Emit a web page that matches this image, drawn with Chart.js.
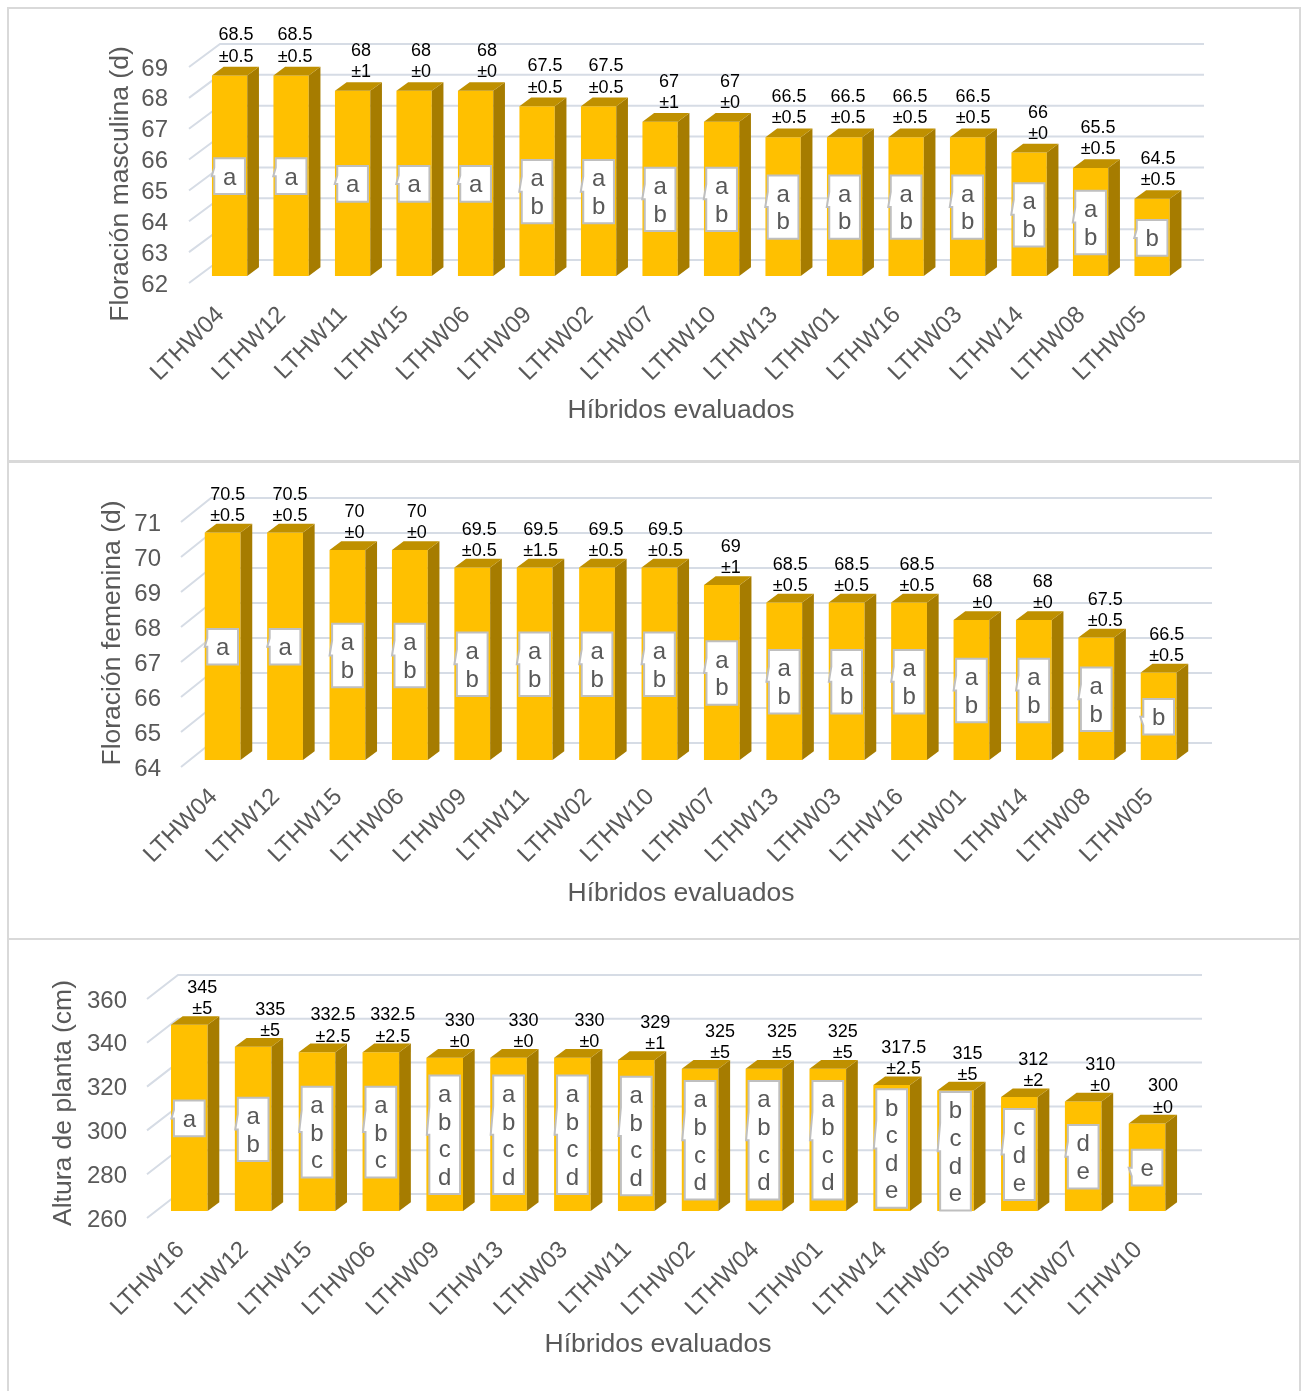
<!DOCTYPE html>
<html lang="es">
<head>
<meta charset="utf-8">
<title>Híbridos evaluados</title>
<script src="https://cdn.jsdelivr.net/npm/chart.js@4/dist/chart.umd.min.js"></script>
<style>
    html, body { margin: 0; padding: 0; background: #fff; }
    body { position: relative; width: 1301px; height: 1391px; overflow: hidden; }
    .panel { position: absolute; left: 7px; width: 1290px; border: 2px solid #D9D9D9; box-sizing: content-box; }
    canvas { position: absolute; left: 0; display: block; }
</style>
</head>
<body>
<div class="panel" style="top:7px;height:452px"></div>
<div class="panel" style="top:460px;height:476px"></div>
<div class="panel" style="top:938px;height:460px"></div>
<canvas id="masculina" width="1301" height="461" style="top:0"></canvas>
<canvas id="femenina" width="1301" height="478" style="top:461px"></canvas>
<canvas id="altura" width="1301" height="452" style="top:939px"></canvas>
<script>
// Floración masculina
const hibridosMasc = ['LTHW04', 'LTHW12', 'LTHW11', 'LTHW15', 'LTHW06', 'LTHW09', 'LTHW02', 'LTHW07', 'LTHW10', 'LTHW13', 'LTHW01', 'LTHW16', 'LTHW03', 'LTHW14', 'LTHW08', 'LTHW05'];
const mediasMasc = [68.5, 68.5, 68, 68, 68, 67.5, 67.5, 67, 67, 66.5, 66.5, 66.5, 66.5, 66, 65.5, 64.5];
const erroresMasc = [0.5, 0.5, 1, 0, 0, 0.5, 0.5, 1, 0, 0.5, 0.5, 0.5, 0.5, 0, 0.5, 0.5];
const letrasMasc = ['a', 'a', 'a', 'a', 'a', 'ab', 'ab', 'ab', 'ab', 'ab', 'ab', 'ab', 'ab', 'ab', 'ab', 'b'];

// Floración femenina
const hibridosFem = ['LTHW04', 'LTHW12', 'LTHW15', 'LTHW06', 'LTHW09', 'LTHW11', 'LTHW02', 'LTHW10', 'LTHW07', 'LTHW13', 'LTHW03', 'LTHW16', 'LTHW01', 'LTHW14', 'LTHW08', 'LTHW05'];
const mediasFem = [70.5, 70.5, 70, 70, 69.5, 69.5, 69.5, 69.5, 69, 68.5, 68.5, 68.5, 68, 68, 67.5, 66.5];
const erroresFem = [0.5, 0.5, 0, 0, 0.5, 1.5, 0.5, 0.5, 1, 0.5, 0.5, 0.5, 0, 0, 0.5, 0.5];
const letrasFem = ['a', 'a', 'ab', 'ab', 'ab', 'ab', 'ab', 'ab', 'ab', 'ab', 'ab', 'ab', 'ab', 'ab', 'ab', 'b'];

// Altura de planta
const hibridosAlt = ['LTHW16', 'LTHW12', 'LTHW15', 'LTHW06', 'LTHW09', 'LTHW13', 'LTHW03', 'LTHW11', 'LTHW02', 'LTHW04', 'LTHW01', 'LTHW14', 'LTHW05', 'LTHW08', 'LTHW07', 'LTHW10'];
const mediasAlt = [345, 335, 332.5, 332.5, 330, 330, 330, 329, 325, 325, 325, 317.5, 315, 312, 310, 300];
const erroresAlt = [5, 5, 2.5, 2.5, 0, 0, 0, 1, 5, 5, 5, 2.5, 5, 2, 0, 0];
const letrasAlt = ['a', 'ab', 'abc', 'abc', 'abcd', 'abcd', 'abcd', 'abcd', 'abcd', 'abcd', 'abcd', 'bcde', 'bcde', 'cde', 'de', 'e'];

const FONT = '"Liberation Sans", Arial, sans-serif';
const GRIS_TEXTO = '#595959';
const GRIS_REJILLA = '#D6DCE5';
const GRIS_CAJA = '#BFBFBF';

// Caras del prisma: el frente lo dibuja Chart.js, el resto el plugin
const FRENTE = '#FFC000';
const LATERAL = '#A67C00';
const TAPA = '#BF9000';
const PRISMA_DX = 11.7;
const PRISMA_DY = 8.7;

// Las etiquetas del eje Y quedan algo por debajo de su línea de rejilla
const BAJADA_ETIQUETA = 2;

function caja(ctx, cx, cy, letras, puntaAbajo) {
    const n = letras.length;
    const alto = 8.1 + 27.6 * n;
    const ancho = 30.7;
    const izq = cx - ancho / 2;
    const der = cx + ancho / 2;
    const arriba = cy - alto / 2;
    const abajo = cy + alto / 2;
    const cola = alto * 0.24;

    ctx.beginPath();
    ctx.moveTo(izq, arriba);
    ctx.lineTo(der, arriba);
    ctx.lineTo(der, abajo);
    ctx.lineTo(izq, abajo);
    if (puntaAbajo) {
        ctx.lineTo(izq, cy + cola);
        ctx.lineTo(izq - 3, cy);
        ctx.lineTo(izq, cy);
    } else {
        ctx.lineTo(izq, cy);
        ctx.lineTo(izq - 2.5, cy);
        ctx.lineTo(izq, cy - cola);
    }
    ctx.closePath();
    ctx.fillStyle = '#fff';
    ctx.fill();
    ctx.lineWidth = 2;
    ctx.strokeStyle = GRIS_CAJA;
    ctx.stroke();

    ctx.fillStyle = GRIS_TEXTO;
    ctx.font = '24px ' + FONT;
    ctx.textAlign = 'center';
    ctx.textBaseline = 'alphabetic';
    [...letras].forEach((l, i) => ctx.fillText(l, cx, arriba + 26.3 + 27.6 * i));
}

function plugin3d(cfg) {
    return {
        id: 'barras3d',
        beforeDatasetsDraw(chart) {
            // Pared del fondo y piso lateral a partir de la escala de valores
            const { ctx, scales: { y } } = chart;
            ctx.save();
            ctx.strokeStyle = GRIS_REJILLA;
            ctx.lineWidth = 2;
            y.ticks.forEach(t => {
                const py = y.getPixelForValue(t.value) - BAJADA_ETIQUETA;
                ctx.beginPath();
                ctx.moveTo(cfg.paredIzq, py);
                ctx.lineTo(cfg.paredIzq + cfg.paredDx, py - cfg.paredDy);
                ctx.lineTo(cfg.paredDer, py - cfg.paredDy);
                ctx.stroke();
            });
            ctx.restore();
        },
        afterDatasetsDraw(chart) {
            const { ctx } = chart;
            const barras = chart.getDatasetMeta(0).data;
            ctx.save();
            barras.forEach(b => {
                const x0 = b.x - b.width / 2;
                const x1 = b.x + b.width / 2;
                ctx.fillStyle = LATERAL;
                ctx.beginPath();
                ctx.moveTo(x1, b.y);
                ctx.lineTo(x1 + PRISMA_DX, b.y - PRISMA_DY);
                ctx.lineTo(x1 + PRISMA_DX, b.base - PRISMA_DY);
                ctx.lineTo(x1, b.base);
                ctx.closePath();
                ctx.fill();
                ctx.fillStyle = TAPA;
                ctx.beginPath();
                ctx.moveTo(x0, b.y);
                ctx.lineTo(x0 + PRISMA_DX, b.y - PRISMA_DY);
                ctx.lineTo(x1 + PRISMA_DX, b.y - PRISMA_DY);
                ctx.lineTo(x1, b.y);
                ctx.closePath();
                ctx.fill();
            });

            barras.forEach((b, i) => {
                caja(ctx, b.x, (b.y + b.base) / 2 + 0.5, cfg.letras[i], i === barras.length - 1 && cfg.puntaAbajo);
            });

            // Media y error sobre cada barra
            ctx.fillStyle = '#000';
            ctx.font = '18px ' + FONT;
            ctx.textAlign = 'center';
            ctx.textBaseline = 'alphabetic';
            barras.forEach((b, i) => {
                const cx = b.x + cfg.ajusteEtiqueta[i];
                const base = b.y - PRISMA_DY - cfg.separacion;
                ctx.fillText(String(cfg.medias[i]), cx, base - 21.3);
                ctx.fillText('±' + cfg.errores[i], cx, base);
            });

            // Títulos de los ejes
            ctx.fillStyle = GRIS_TEXTO;
            ctx.font = '26.5px ' + FONT;
            ctx.textBaseline = 'middle';
            ctx.fillText(cfg.tituloX, cfg.tituloXPos[0], cfg.tituloXPos[1]);
            ctx.translate(cfg.tituloYPos[0], cfg.tituloYPos[1]);
            ctx.rotate(-Math.PI / 2);
            ctx.fillText(cfg.tituloY, 0, 0);
            ctx.restore();
        }
    };
}

function crearGrafico(id, cfg) {
    const canvas = document.getElementById(id);
    const arriba = cfg.arriba + BAJADA_ETIQUETA;
    const abajo = cfg.abajo + BAJADA_ETIQUETA;
    const pxPorUnidad = (abajo - arriba) / (cfg.max - cfg.min);
    const desplazamiento = (7 + BAJADA_ETIQUETA) / pxPorUnidad;
    const izq = cfg.centro0 - cfg.paso / 2;
    const der = izq + cfg.paso * cfg.hibridos.length;

    return new Chart(canvas, {
        type: 'bar',
        data: {
            labels: cfg.hibridos,
            datasets: [{
                data: cfg.medias,
                yAxisID: 'yBarras',
                base: cfg.min,
                backgroundColor: FRENTE,
                borderWidth: 0,
                categoryPercentage: 1,
                barPercentage: cfg.anchoBarra / cfg.paso
            }]
        },
        options: {
            responsive: false,
            animation: false,
            devicePixelRatio: 1,
            layout: { padding: { left: 0, top: arriba, right: canvas.width - der, bottom: 0 } },
            plugins: { legend: { display: false }, tooltip: { enabled: false } },
            scales: {
                x: {
                    offset: true,
                    grid: { display: false, drawTicks: false },
                    border: { display: false },
                    afterFit: s => { s.height = canvas.height - abajo; },
                    ticks: {
                        autoSkip: false,
                        minRotation: 45,
                        maxRotation: 45,
                        padding: cfg.paddingX,
                        labelOffset: cfg.offsetX,
                        color: GRIS_TEXTO,
                        font: { family: FONT, size: 24 }
                    }
                },
                y: {
                    min: cfg.min,
                    max: cfg.max,
                    grid: { display: false, drawTicks: false },
                    border: { display: false },
                    afterFit: s => { s.width = izq; },
                    ticks: {
                        autoSkip: false,
                        stepSize: cfg.paso_y,
                        padding: izq - cfg.etiquetasDer,
                        color: GRIS_TEXTO,
                        font: { family: FONT, size: 24 }
                    }
                },
                yBarras: {
                    display: false,
                    min: cfg.min - desplazamiento,
                    max: cfg.max - desplazamiento
                }
            }
        },
        plugins: [plugin3d(cfg)]
    });
}

crearGrafico('masculina', {
    hibridos: hibridosMasc, medias: mediasMasc, errores: erroresMasc, letras: letrasMasc,
    min: 62, max: 69, paso_y: 1,
    arriba: 67, abajo: 283,
    centro0: 229.6, paso: 61.5, anchoBarra: 35.3,
    paredIzq: 189, paredDx: 31, paredDy: 23, paredDer: 1204,
    etiquetasDer: 168, paddingX: 16, offsetX: -9,
    separacion: 5,
    ajusteEtiqueta: [6.5, 4, 8.5, 7, 11.5, 8, 7.5, 9, 8.5, 6, 3.5, 4, 5.5, 9, 7.5, 6],
    tituloX: 'Híbridos evaluados', tituloXPos: [681, 411],
    tituloY: 'Floración masculina (d)', tituloYPos: [121, 184]
});

crearGrafico('femenina', {
    hibridos: hibridosFem, medias: mediasFem, errores: erroresFem, letras: letrasFem,
    min: 64, max: 71, paso_y: 1,
    arriba: 522 - 461, abajo: 767 - 461,
    centro0: 222.65, paso: 62.4, anchoBarra: 35.8,
    paredIzq: 181, paredDx: 30, paredDy: 24, paredDer: 1212,
    etiquetasDer: 161, paddingX: 14, offsetX: -9,
    separacion: 3, puntaAbajo: true,
    ajusteEtiqueta: [5, 5, 7, 7, 7, 6, 9, 6, 9, 6, 5, 8, 11, 9, 9, 8],
    tituloX: 'Híbridos evaluados', tituloXPos: [681, 894 - 461],
    tituloY: 'Floración femenina (d)', tituloYPos: [113, 633 - 461]
});

crearGrafico('altura', {
    hibridos: hibridosAlt, medias: mediasAlt, errores: erroresAlt, letras: letrasAlt,
    min: 260, max: 360, paso_y: 20,
    arriba: 999 - 939, abajo: 1218 - 939,
    centro0: 189.3, paso: 63.85, anchoBarra: 36.6,
    paredIzq: 147, paredDx: 31, paredDy: 24, paredDer: 1202,
    etiquetasDer: 127, paddingX: 16, offsetX: -8.5,
    separacion: 2, puntaAbajo: true,
    ajusteEtiqueta: [13, 17, 16, 12, 15, 15, 17, 19, 20, 18, 15, 12, 12, 14, 17, 16],
    tituloX: 'Híbridos evaluados', tituloXPos: [658, 1345 - 939],
    tituloY: 'Altura de planta (cm)', tituloYPos: [64, 1103 - 939]
});
</script>
</body>
</html>
